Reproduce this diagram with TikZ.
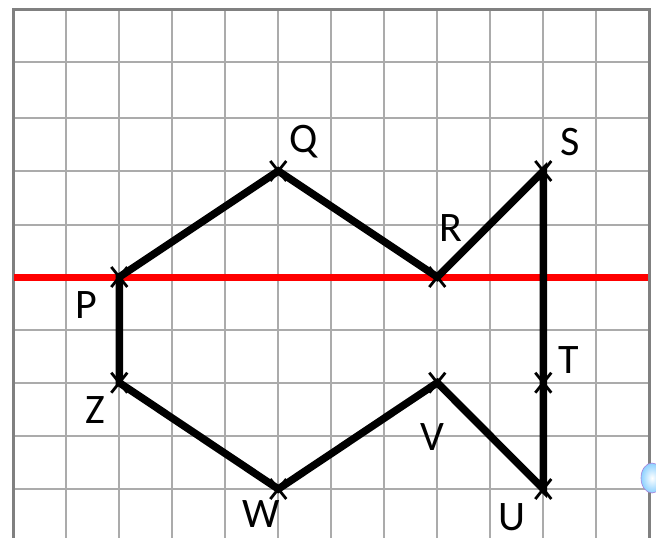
\documentclass[tikz,border=0pt]{standalone}
\usepackage{fontspec}
\setmainfont{Carlito}
\begin{document}
\begin{tikzpicture}[x=1pt,y=-1pt,
  gridline/.style={draw=black!33,line width=2pt},
  border/.style={draw=black!50,line width=3pt},
  shapeline/.style={draw=black,line width=7.5pt,line join=miter},
  redline/.style={draw=red,line width=7pt},
  crossmark/.style={draw=black,line width=2.8pt},
  lbl/.style={font=\fontsize{42}{48}\selectfont,inner sep=0pt}]
\useasboundingbox (0,0) rectangle (656,538);
\clip (0,0) rectangle (656,538);
% grid
\foreach \y in {61.7,118,171,224.5,277,330,382.7,436,489}
  \draw[gridline] (13.3,\y) -- (649.3,\y);
\foreach \k in {1,...,11}
  \draw[gridline] (13.3+53*\k,9.3) -- (13.3+53*\k,538);
\draw[border] (13.3,538) -- (13.3,9.3) -- (649.3,9.3) -- (649.3,538);
% red line
\draw[redline] (14,277) -- (648,277);
% vertices
\coordinate (P) at (119.3,277);
\coordinate (Q) at (278.3,171);
\coordinate (R) at (437.3,277);
\coordinate (S) at (543.3,171);
\coordinate (T) at (543.3,382.7);
\coordinate (U) at (543.3,489);
\coordinate (V) at (437.3,382.7);
\coordinate (W) at (278.3,489);
\coordinate (Z) at (119.3,382.7);
\draw[shapeline] (P) -- (Q) -- (R) -- (S) -- (T) -- (U) -- (V) -- (W) -- (Z) -- cycle;
\foreach \p in {P,Q,R,S,T,U,V,W,Z}
  \draw[crossmark] ([shift={(-8,-10)}]\p) -- ([shift={(8,10)}]\p)
                   ([shift={(8,-10)}]\p) -- ([shift={(-8,10)}]\p);
% labels
\node[lbl] (lQ) at (304,142) {Q};
\node[lbl] (lS) at (570,142) {S};
\node[lbl] (lR) at (451,228) {R};
\node[lbl] (lP) at (86,305) {P};
\node[lbl] (lT) at (569,360) {T};
\node[lbl] (lZ) at (95,410) {Z};
\node[lbl] (lV) at (432,437) {V};
\node[lbl] (lW) at (261,514) {W};
\node[lbl] (lU) at (512,517) {U};
% small blue icon at edge
\shade[inner color=white,outer color=cyan!60!blue!45,draw=blue!40!violet!50,line width=0.6pt] (652,478) ellipse (11 and 15);
\end{tikzpicture}
\end{document}
